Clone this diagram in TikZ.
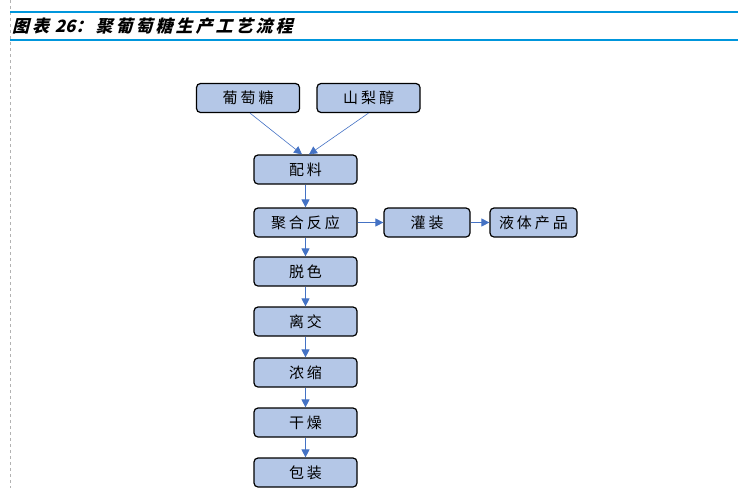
\documentclass[tikz,border=0pt]{standalone}
\usepackage{fontspec}
\newfontfamily\cjk{Noto Sans CJK SC}
\newfontfamily\cjkt[FakeSlant=0.25]{Noto Sans CJK SC}
\XeTeXlinebreaklocale "zh"
\XeTeXlinebreakskip=3pt
\usetikzlibrary{arrows.meta,positioning}
\definecolor{boxfill}{RGB}{180,199,231}
\definecolor{flowblue}{RGB}{68,114,196}
\definecolor{ruleblue}{RGB}{0,150,220}

\begin{document}
\begin{tikzpicture}[x=1pt,y=-1pt,
  proc/.style={draw=black,line width=1.2pt,rounded corners=4pt,fill=boxfill,
    text width=#1-4pt,align=center,minimum height=29pt,inner xsep=2pt,inner ysep=0pt,
    font=\cjk\fontsize{15}{15}\selectfont},
  proc/.default=103pt,
  flow/.style={-{Triangle[length=8pt,width=8pt]},flowblue,line width=0.9pt}]
\useasboundingbox (0,0) rectangle (738,488);
\draw [gray!60,dashed] (10,0) -- (10,488);
\draw [ruleblue,line width=1.3pt] (10,12) -- (738,12);
\draw [ruleblue,line width=2pt] (10,40) -- (738,40);
\node [anchor=west,inner sep=0pt,text width=400pt,align=left,font=\cjkt\bfseries\fontsize{17}{17}\selectfont] (title) at (12,26) {图表 26：聚葡萄糖生产工艺流程};
% raw materials
\node [proc] (glu) at (248,98) {葡萄糖};
\node [proc] (sor) at (368.5,98) {山梨醇};
% main line
\node [proc] (mix) at (305.5,169.5) {配料};
\node [proc] (poly) at (305.5,222.5) {聚合反应};
\node [proc=86pt] (fill) at (427,222.5) {灌装};
\node [proc=87pt] (liq) at (533.5,222.5) {液体产品};
\node [proc] (dec) at (305.5,271.5) {脱色};
\node [proc] (ion) at (305.5,321.5) {离交};
\node [proc] (conc) at (305.5,372.5) {浓缩};
\node [proc] (dry) at (305.5,422.5) {干燥};
\node [proc] (pack) at (305.5,472.5) {包装};
\draw [flow,line width=0.6pt] ([xshift=2pt]glu.south) -- ([xshift=-3.5pt]mix.north);
\draw [flow,line width=0.6pt] (sor.south) -- ([xshift=3.5pt]mix.north);
\draw [flow] (mix) -- (poly);
\draw [flow] (poly) -- (fill);
\draw [flow] (fill) -- (liq);
\draw [flow] (poly) -- (dec);
\draw [flow] (dec) -- (ion);
\draw [flow] (ion) -- (conc);
\draw [flow] (conc) -- (dry);
\draw [flow] (dry) -- (pack);
\end{tikzpicture}
\end{document}
